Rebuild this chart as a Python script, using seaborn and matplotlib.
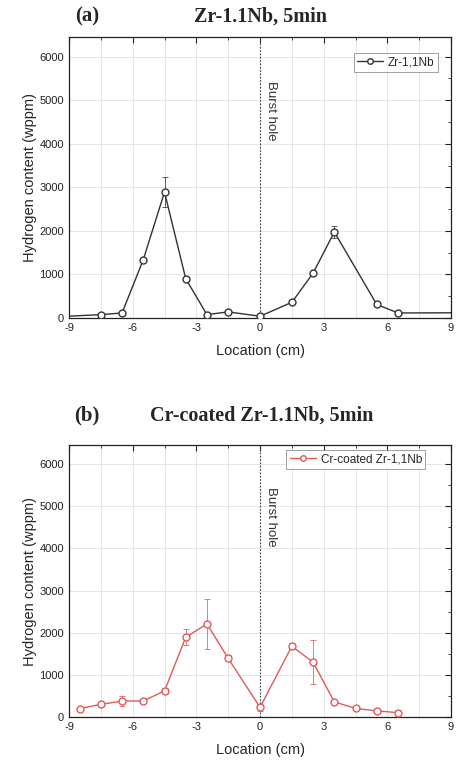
import matplotlib
matplotlib.use("Agg")
import matplotlib.pyplot as plt
import seaborn as sns
import numpy as np
import pandas as pd
from matplotlib.ticker import MultipleLocator

# ---- data (a) Zr-1.1Nb ----
loc_a = [-9.5, -7.5, -6.5, -5.5, -4.5, -3.5, -2.5, -1.5, 0.0, 1.5, 2.5, 3.5, 5.5, 6.5, 9.5]
h_a = [30, 77, 115, 1340, 2890, 900, 77, 140, 40, 360, 1030, 1975, 310, 115, 120]
err_a = [0, 20, 20, 40, 340, 40, 20, 30, 20, 30, 40, 130, 40, 20, 0]

# ---- data (b) Cr-coated Zr-1.1Nb ----
loc_b = [-8.5, -7.5, -6.5, -5.5, -4.5, -3.5, -2.5, -1.5, 0.0, 1.5, 2.5, 3.5, 4.5, 5.5, 6.5]
h_b = [200, 300, 380, 380, 620, 1890, 2210, 1390, 230, 1680, 1300, 360, 205, 145, 105]
err_b = [40, 40, 120, 40, 60, 190, 600, 70, 90, 70, 520, 40, 40, 40, 60]

xticks = [-9, -6, -3, 0, 3, 6, 9]
yticks = [0, 1000, 2000, 3000, 4000, 5000, 6000]

sns.set_style("white")
plt.rcParams['font.family'] = ['Liberation Sans', 'DejaVu Sans']

fig = plt.figure(figsize=(4.57, 7.62), dpi=100)
ax_a = fig.add_axes([0.151, 0.5827, 0.836, 0.3687])
ax_b = fig.add_axes([0.151, 0.059, 0.836, 0.357])

def panel(ax, x, y, e, color, label, leg_anchor):
    df = pd.DataFrame({"x": x, "y": y})
    ax.errorbar(x, y, yerr=e, fmt='none', ecolor=color, elinewidth=0.7,
                capsize=2.5, capthick=0.7, alpha=0.8, zorder=2)
    sns.lineplot(data=df, x="x", y="y", ax=ax, color=color, lw=1.0,
                 marker='o', markersize=5, markerfacecolor='white',
                 markeredgecolor=color, markeredgewidth=1.0, label=label,
                 sort=False, zorder=3)
    ax.axvline(0, color='#444444', ls=(0, (1.5, 1.5)), lw=0.8, zorder=1)
    ax.text(0.22, 5450, "Burst hole", rotation=-90, ha='left', va='top',
            fontsize=9.5, color='#333333')
    ax.set_xlim(-9, 9)
    ax.set_ylim(0, 6450)
    ax.set_xticks(xticks)
    ax.set_xticklabels([str(t) for t in xticks])
    ax.set_yticks(yticks)
    ax.set_yticklabels([str(t) for t in yticks])
    ax.xaxis.set_minor_locator(MultipleLocator(1.5))
    ax.yaxis.set_minor_locator(MultipleLocator(500))
    ax.grid(True, which='major', color='#e2e2e2', lw=0.6)
    ax.grid(True, which='minor', axis='x', color='#e2e2e2', lw=0.6)
    ax.tick_params(which='both', direction='in', top=True, right=True,
                   labelsize=8, colors='#222222')
    ax.tick_params(which='major', length=4, width=0.8)
    ax.tick_params(which='minor', length=2, width=0.6)
    for s in ax.spines.values():
        s.set_color('#222222')
        s.set_linewidth(0.9)
    ax.set_xlabel("Location (cm)", fontsize=10.5, labelpad=8)
    ax.set_ylabel("Hydrogen content (wppm)", fontsize=10.5, labelpad=2)
    leg = ax.legend(loc='upper right', bbox_to_anchor=leg_anchor, fontsize=8.5,
                    frameon=True, fancybox=False, edgecolor='#888888',
                    handlelength=2.2, borderpad=0.3, handletextpad=0.4,
                    borderaxespad=0)
    leg.get_frame().set_linewidth(0.7)
    for h in leg.legend_handles:
        h.set_markersize(4)

panel(ax_a, loc_a, h_a, err_a, '#333333', "Zr-1,1Nb", (0.966, 0.943))
panel(ax_b, loc_b, h_b, err_b, '#e05a5a', "Cr-coated Zr-1,1Nb", (0.933, 0.982))

serif = ['Liberation Serif', 'DejaVu Serif']
fig.text(0.19, 0.978, "(a)", fontsize=15, fontweight='bold', family=serif,
         ha='center', va='center')
fig.text(0.569, 0.978, "Zr-1.1Nb, 5min", fontsize=14.5, fontweight='bold',
         family=serif, ha='center', va='center')
fig.text(0.19, 0.455, "(b)", fontsize=15, fontweight='bold', family=serif,
         ha='center', va='center')
fig.text(0.573, 0.455, "Cr-coated Zr-1.1Nb, 5min", fontsize=14.5,
         fontweight='bold', family=serif, ha='center', va='center')

fig.savefig("out.png", dpi=100, facecolor='white')
